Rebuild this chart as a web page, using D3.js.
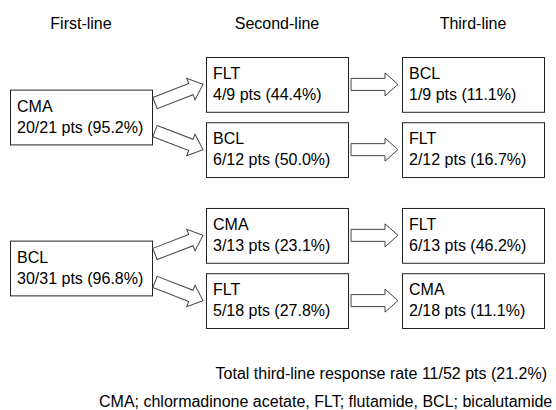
<!DOCTYPE html>
<html>
<head>
<meta charset="utf-8">
<script src="https://cdn.jsdelivr.net/npm/d3@7"></script>
<style>
  body { margin: 0; background: #fff; }
  text { font-family: "Liberation Sans", Arial, sans-serif; font-size: 16px; fill: #000; }
</style>
</head>
<body>
<svg id="canvas" width="556" height="410"></svg>
<script>
// --- Data ---
const stages = ["First-line", "Second-line", "Third-line"];
const groups = [0, 1];

const firstDrugs = ["CMA", "BCL"];
const firstResponders = [20, 30];
const firstPatients = [21, 31];
const firstRates = [95.2, 96.8];

const secondDrugs = ["FLT", "BCL", "CMA", "FLT"];
const secondResponders = [4, 6, 3, 5];
const secondPatients = [9, 12, 13, 18];
const secondRates = [44.4, 50.0, 23.1, 27.8];

const thirdDrugs = ["BCL", "FLT", "FLT", "CMA"];
const thirdResponders = [1, 2, 6, 2];
const thirdPatients = [9, 12, 13, 18];
const thirdRates = [11.1, 16.7, 46.2, 11.1];

const totalResponders = 11;
const totalPatients = 52;
const totalRate = 21.2;
const footnote = "CMA; chlormadinone acetate, FLT; flutamide, BCL; bicalutamide";

const svg = d3.select("#canvas");

// --- Scales ---
const x = d3.scaleBand().domain(stages).range([10, 544]).paddingInner(0.2755);
const yGroup = d3.scaleBand().domain(groups).range([57, 328]).paddingInner(0.205);
const ySub = d3.scaleBand().domain([0, 1]).range([0, yGroup.bandwidth()]).paddingInner(0.16);
const boxH = ySub.bandwidth();

// build box records from the arrays
const label = (r, n, p) => `${r}/${n} pts (${p.toFixed(1)}%)`;
let boxes = [];
firstDrugs.forEach((d, i) => {
  boxes.push({ stage: stages[0], drug: d, text: label(firstResponders[i], firstPatients[i], firstRates[i]),
               y: yGroup(i) + yGroup.bandwidth() / 2 - boxH / 2 });
});
secondDrugs.forEach((d, i) => {
  boxes.push({ stage: stages[1], drug: d, text: label(secondResponders[i], secondPatients[i], secondRates[i]),
               y: yGroup(Math.floor(i / 2)) + ySub(i % 2) });
});
thirdDrugs.forEach((d, i) => {
  boxes.push({ stage: stages[2], drug: d, text: label(thirdResponders[i], thirdPatients[i], thirdRates[i]),
               y: yGroup(Math.floor(i / 2)) + ySub(i % 2) });
});

// --- Headers ---
svg.selectAll(".header")
  .data(stages)
  .enter()
  .append("text")
  .attr("class", "header")
  .attr("x", d => x(d) + x.bandwidth() / 2)
  .attr("y", 29)
  .attr("text-anchor", "middle")
  .text(d => d);

// --- Boxes ---
const box = svg.selectAll(".box")
  .data(boxes)
  .enter()
  .append("g")
  .attr("class", "box")
  .attr("transform", d => `translate(${x(d.stage)},${d.y})`);

box.append("rect")
  .attr("x", 0.5)
  .attr("y", 0.5)
  .attr("width", x.bandwidth())
  .attr("height", boxH)
  .attr("fill", "#fff")
  .attr("stroke", "#222")
  .attr("stroke-width", 1);

box.append("text").attr("x", 7).attr("y", 22).text(d => d.drug);
box.append("text").attr("x", 7).attr("y", 43).text(d => d.text);

// --- Block arrows ---
// hollow arrow from (x0,y0) to (x1,y1)
function blockArrow(x0, y0, x1, y1) {
  const len = Math.hypot(x1 - x0, y1 - y0);
  const ang = Math.atan2(y1 - y0, x1 - x0) * 180 / Math.PI;
  const sh = 6, hh = 11.5, hl = 13;
  const pts = [[0, -sh], [len - hl, -sh], [len - hl, -hh], [len, 0], [len - hl, hh], [len - hl, sh], [0, sh]];
  svg.append("path")
    .attr("class", "arrow")
    .attr("d", d3.line()(pts) + "Z")
    .attr("transform", `translate(${x0},${y0}) rotate(${ang})`)
    .attr("fill", "#fff")
    .attr("stroke", "#444")
    .attr("stroke-width", 1);
}

groups.forEach(g => {
  const gc = yGroup(g) + yGroup.bandwidth() / 2;
  const firstRight = x(stages[0]) + x.bandwidth();
  const secondLeft = x(stages[1]);
  const secondRight = x(stages[1]) + x.bandwidth();
  const thirdLeft = x(stages[2]);
  [0, 1].forEach(s => {
    const rc = yGroup(g) + ySub(s) + boxH / 2;
    // first -> second (diagonal)
    blockArrow(firstRight + 3, gc + (s === 0 ? -14 : 14), secondLeft - 3, rc);
    // second -> third (straight)
    blockArrow(secondRight + 3, rc, thirdLeft - 4, rc);
  });
});

// --- Footer texts ---
svg.append("text")
  .attr("x", 547)
  .attr("y", 379)
  .attr("text-anchor", "end")
  .text(`Total third-line response rate ${totalResponders}/${totalPatients} pts (${totalRate.toFixed(1)}%)`);

svg.append("text")
  .attr("x", 99)
  .attr("y", 407)
  .text(footnote);
</script>
</body>
</html>
